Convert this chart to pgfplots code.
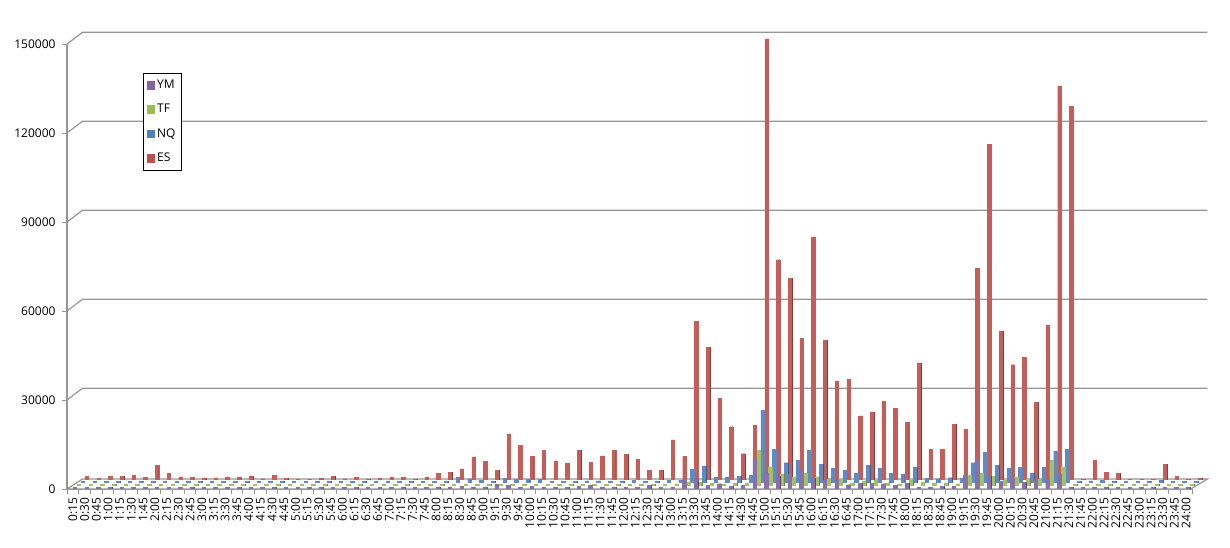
\documentclass[border=0pt]{standalone}
\usepackage{fontspec}
\setmainfont{Open Sans}
\usepackage{pgfplots}
\usepackage{pgfplotstable}
\pgfplotsset{compat=1.18}
\definecolor{esc}{HTML}{C0504D}
\definecolor{nqc}{HTML}{4F81BD}
\definecolor{tfc}{HTML}{9BBB59}
\definecolor{ymc}{HTML}{8064A2}
\definecolor{wallc}{HTML}{969696}

% contracts per 15 minute slot
\pgfplotstableread{
i ES NQ TF YM
0 1100 150 150 150
1 300 150 150 150
2 1100 150 150 150
3 1000 150 150 150
4 1450 150 150 150
5 650 150 150 200
6 4900 300 150 150
7 2200 150 150 150
8 900 150 150 150
9 800 150 150 150
10 560 150 150 150
11 560 150 150 150
12 900 200 150 150
13 650 150 150 150
14 1200 150 150 150
15 250 150 150 200
16 1350 150 150 150
17 450 150 150 150
18 150 150 150 150
19 150 150 150 150
20 300 150 150 150
21 1100 150 150 150
22 250 150 150 150
23 800 150 150 150
24 150 150 150 200
25 450 150 150 150
26 800 150 150 200
27 650 150 150 150
28 100 150 150 200
29 800 150 150 250
30 2200 250 150 300
31 2350 250 150 350
32 3600 1570 150 400
33 7600 1100 150 560
34 6150 670 150 400
35 3100 300 150 400
36 15400 1230 200 1300
37 11500 900 150 800
38 7700 800 150 300
39 9850 1000 150 500
40 6250 200 150 300
41 5400 200 150 300
42 9850 200 150 300
43 5700 340 150 500
44 7950 340 200 800
45 10000 300 150 400
46 8400 340 150 300
47 6700 560 150 300
48 3100 150 200 300
49 3100 150 150 800
50 13400 560 200 300
51 7800 670 350 400
52 53260 4250 1060 2700
53 44500 5400 950 3130
54 27300 1570 700 1000
55 17800 1700 400 1450
56 8700 1800 500 670
57 18350 2240 600 900
58 148500 24060 11580 9700
59 74100 11000 6000 5150
60 67800 6500 3750 4140
61 47500 7300 2740 4600
62 81800 10600 4080 6150
63 47000 5900 2740 3470
64 33100 4700 2070 2570
65 33800 4000 1960 2570
66 21500 3100 730 1100
67 22800 5700 1400 1570
68 26400 4500 1500 1570
69 24050 3000 700 1450
70 19360 2700 400 800
71 39300 4900 1500 1680
72 10200 1200 950 150
73 10200 1100 700 150
74 18700 1450 700 670
75 17000 1340 400 560
76 71300 6500 3400 4480
77 113000 10070 4080 9300
78 50100 5700 2850 4030
79 38700 4700 1600 2350
80 41300 4900 2740 3470
81 26100 3100 2070 2010
82 51900 4900 2070 3020
83 132700 10500 8450 2900
84 125800 11000 6100 4590
85 100 150 150 150
86 6380 340 150 250
87 2460 450 150 150
88 2130 150 150 150
89 100 150 150 150
90 100 150 150 150
91 100 150 150 150
92 5150 560 150 200
93 1000 150 150 150
94 100 150 150 150
95 450 150 150 150
}\slots

\pgfplotsset{
  series/.style n args={3}{ybar, bar width=2.5pt, bar shift=#1, yshift=#2,
    fill=#3!92!white, draw=#3!92!white, line width=0.3pt, legend image code/.code={
      \fill[#3] (1.5pt,-2.9pt-#2) rectangle (6.9pt,2.9pt-#2);}},
  side/.style n args={3}{ybar, bar width=1.1pt, bar shift=#1, yshift=#2,
    fill=#3!72!black, draw=#3!72!black, line width=0.3pt, forget plot},
}

\begin{document}
\begin{tikzpicture}
\path[use as bounding box] (-50.25pt,-43.5pt) rectangle (872.25pt,366.75pt);
\begin{axis}[
    scale only axis,
    width=843.75pt, height=333.75pt,
    xmin=-0.5, xmax=95.5,
    ymin=0, ymax=150000,
    clip=false,
    axis lines=left,
    axis line style={-, draw=wallc, line width=0.9pt},
    tick style={draw=wallc, line width=0.7pt},
    tick align=outside,
    major tick length=3.4pt,
    xtick={-0.5,0.5,...,95.5},
    xticklabels={0:15,0:30,0:45,1:00,1:15,1:30,1:45,2:00,2:15,2:30,2:45,3:00,3:15,3:30,3:45,4:00,4:15,4:30,4:45,5:00,5:15,5:30,5:45,6:00,6:15,6:30,6:45,7:00,7:15,7:30,7:45,8:00,8:15,8:30,8:45,9:00,9:15,9:30,9:45,10:00,10:15,10:30,10:45,11:00,11:15,11:30,11:45,12:00,12:15,12:30,12:45,13:00,13:15,13:30,13:45,14:00,14:15,14:30,14:45,15:00,15:15,15:30,15:45,16:00,16:15,16:30,16:45,17:00,17:15,17:30,17:45,18:00,18:15,18:30,18:45,19:00,19:15,19:30,19:45,20:00,20:15,20:30,20:45,21:00,21:15,21:30,21:45,22:00,22:15,22:30,22:45,23:00,23:15,23:30,23:45,24:00,{}},
    x tick label style={xshift=4.4pt, yshift=-3pt, rotate=90, anchor=east, font=\fontsize{9pt}{9pt}\selectfont, inner sep=0pt},
    ytick={0,30000,...,150000},
    y tick label style={font=\fontsize{9pt}{9pt}\selectfont, inner sep=0pt, xshift=-5pt},
    scaled y ticks=false,
    /pgf/number format/fixed,
    /pgf/number format/set thousands separator={},
    /pgf/number format/assume math mode=true,
    reverse legend,
    legend cell align=left,
    legend style={at={(rel axis cs:0.0676,0.935)}, anchor=north west, draw=black, line width=0.7pt,
      fill=white, font=\fontsize{9pt}{9pt}\selectfont, inner xsep=2.5pt, inner ysep=3pt,
      row sep=6.2pt, /tikz/every even column/.append style={column sep=0pt}},
]
% back wall lines and the floor
\pgfplotsinvokeforeach{30000,60000,90000,120000,150000}{
  \draw[wallc, line width=0.9pt] (axis cs:-0.5,#1) -- ++(11.6pt,8.8pt) -- ++(843.75pt,0pt);
}
\draw[wallc, line width=0.9pt, fill=white] (axis cs:-0.5,0) -- ++(11.6pt,7.5pt) -- ++(843.75pt,0pt) -- ++(-12.5pt,-7.5pt) -- cycle;

\addplot[side={11.3pt}{7.1pt}{esc}] table[x=i, y=ES] {\slots};
\addplot[series={10.4pt}{7.1pt}{esc}] table[x=i, y=ES] {\slots};
\addlegendentry{ES}
\addplot[side={8.3pt}{5.25pt}{nqc}] table[x=i, y=NQ] {\slots};
\addplot[series={7.4pt}{5.25pt}{nqc}] table[x=i, y=NQ] {\slots};
\addlegendentry{NQ}
\addplot[side={5.3pt}{3pt}{tfc}] table[x=i, y=TF] {\slots};
\addplot[series={4.4pt}{3pt}{tfc}] table[x=i, y=TF] {\slots};
\addlegendentry{TF}
\addplot[side={2.3pt}{0.75pt}{ymc}] table[x=i, y=YM] {\slots};
\addplot[series={1.4pt}{0.75pt}{ymc}] table[x=i, y=YM] {\slots};
\addlegendentry{YM}
\end{axis}
\end{tikzpicture}
\end{document}
